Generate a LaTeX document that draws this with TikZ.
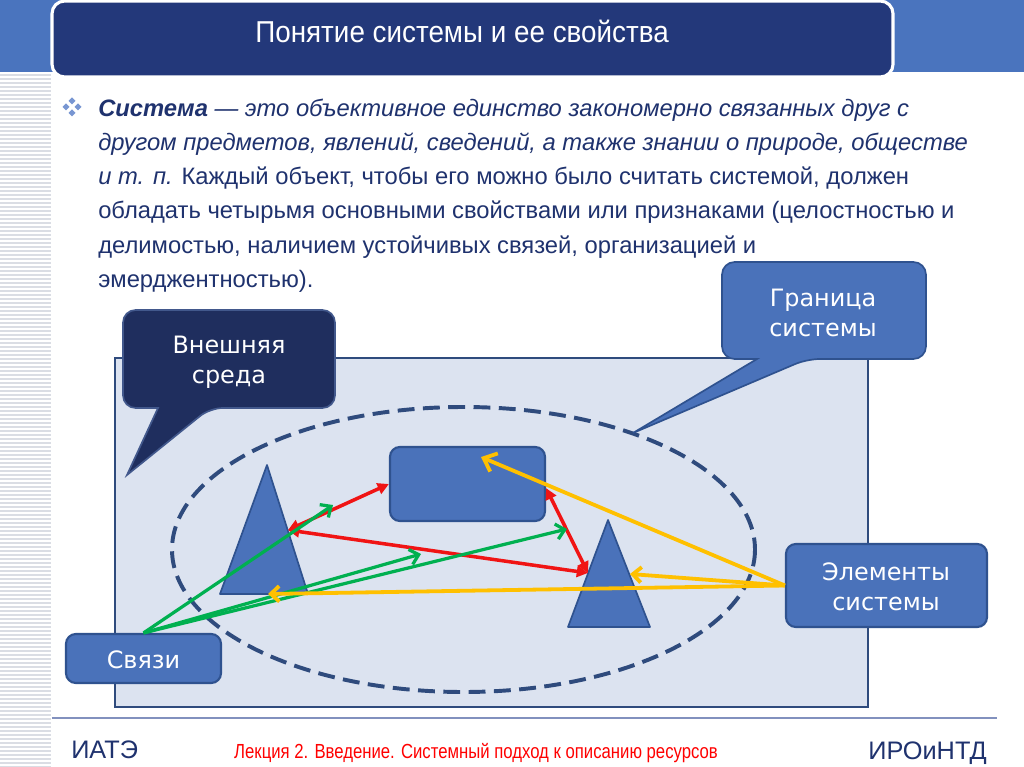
\documentclass[tikz,border=0pt]{standalone}
\usepackage{fontspec}
\setmainfont{Liberation Sans}
\newfontfamily\calloutfont{DejaVu Sans}
\newfontfamily\narrowfont[FakeStretch=0.82]{Liberation Sans}
\newfontfamily\titlefont[FakeStretch=0.92]{Liberation Sans}
\usetikzlibrary{arrows.meta}

\definecolor{bandblue}{RGB}{74,116,190}
\definecolor{titlenavy}{RGB}{35,56,122}
\definecolor{textnavy}{RGB}{31,50,110}
\definecolor{darkcall}{RGB}{31,46,94}
\definecolor{darkedge}{RGB}{66,88,140}
\definecolor{midblue}{RGB}{74,114,186}
\definecolor{midedge}{RGB}{47,82,143}
\definecolor{fieldfill}{RGB}{220,227,240}
\definecolor{fieldedge}{RGB}{47,75,125}
\definecolor{linkred}{RGB}{240,20,20}
\definecolor{linkgreen}{RGB}{0,176,80}
\definecolor{linkyellow}{RGB}{255,192,0}
\definecolor{stripegray}{RGB}{218,221,228}
\definecolor{footline}{RGB}{130,145,190}
\definecolor{bulletblue}{RGB}{120,150,210}

\tikzset{
  bodytext/.style={anchor=base west,inner sep=0pt,text=textnavy,font=\fontsize{16.9}{20}\selectfont},
  calltext/.style={align=center,inner sep=0pt,text=white,font=\calloutfont\fontsize{17}{21.5}\selectfont},
  midbox/.style={draw=midedge,fill=midblue,line width=1.5pt,rounded corners=7pt,inner sep=0pt},
  redlink/.style={draw=linkred,line width=2.5pt,{Triangle[length=8pt,width=8pt]}-{Triangle[length=8pt,width=8pt]}},
  greenlink/.style={draw=linkgreen,line width=2.3pt,-{Straight Barb[length=6pt,width=11pt]}},
  yellowlink/.style={draw=linkyellow,line width=2.7pt,-{Straight Barb[length=6pt,width=11pt]}}
}

\begin{document}
\begin{tikzpicture}[x=0.025cm,y=-0.025cm]
\useasboundingbox (0,0) rectangle (1024,767);
\clip (0,0) rectangle (1024,767);
\fill[white] (0,0) rectangle (1024,767);

% header
\fill[bandblue] (0,0) rectangle (1024,72);
\foreach \y in {75,79,...,767}
  \draw[stripegray,line width=1.2pt] (0,\y) -- (51,\y);
\draw[white,line width=2.2pt,fill=titlenavy,rounded corners=9pt] (52,1) rectangle (893,77);
\node[text=white,font=\titlefont\fontsize{21.5}{24}\selectfont,anchor=base] (title) at (462,43) {Понятие системы и ее свойства};

% definition
\foreach \bx/\by in {72/101,66/107,78/107,72/113}
  \fill[bulletblue] (\bx,\by-3.5) -- (\bx+3.5,\by) -- (\bx,\by+3.5) -- (\bx-3.5,\by) -- cycle;
\node[bodytext] (line1) at (98,117) {\textbf{\textit{Система}} \textit{— это объективное единство закономерно связанных друг с}};
\node[bodytext] (line2) at (98,151) {\textit{другом предметов, явлений, сведений, а также знании о природе, обществе}};
\node[bodytext] (line3) at (98,185) {\textit{и т. п.} Каждый объект, чтобы его можно было считать системой, должен};
\node[bodytext] (line4) at (98,219) {обладать четырьмя основными свойствами или признаками (целостностью и};
\node[bodytext] (line5) at (98,253) {делимостью, наличием устойчивых связей, организацией и};
\node[bodytext] (line6) at (98,287) {эмерджентностью).};

% environment and system
\draw[fill=fieldfill,draw=fieldedge,line width=1.5pt] (115,358) rectangle (868,707);
\draw[fieldedge,line width=2.8pt,dash pattern=on 12pt off 6pt] (463.5,549.5) ellipse [x radius=291.5,y radius=142.5];

\draw[draw=darkedge,fill=darkcall,line width=1.2pt,rounded corners=9pt]
  (123,310) -- (335,310) -- (335,408) -- (210,408) [sharp corners] -- (127,475) -- (158,408) [rounded corners=9pt] -- (123,408) -- cycle;
\node[calltext] (env) at (229,362) {Внешняя\\среда};

\draw[draw=midedge,fill=midblue,line width=1.2pt,rounded corners=9pt]
  (722,262) -- (926,262) -- (926,359) -- (807,359) [sharp corners] -- (633,433) -- (757,359) [rounded corners=9pt] -- (722,359) -- cycle;
\node[calltext] (border) at (823,313) {Граница\\системы};

% elements
\node[midbox,minimum width=3.875cm,minimum height=1.85cm] (blk) at (467.5,484) {};
\fill[midblue,draw=midedge,line width=1.2pt,line join=round] (267,465) -- (308,594) -- (220,594) -- cycle;
\fill[midblue,draw=midedge,line width=1.2pt,line join=round] (608,520) -- (650,627) -- (568,627) -- cycle;
\coordinate (lt) at (288,530);
\coordinate (ltb) at (268,594);
\coordinate (rt) at (588,573);
\coordinate (rtr) at (630,574);

\node[midbox,minimum width=3.875cm,minimum height=1.225cm] (svyazi) at (143.5,658.5) {};
\node[calltext] (svyazitext) at (143.5,660) {Связи};
\node[midbox,minimum width=5.025cm,minimum height=2.075cm] (elem) at (886.5,585.5) {};
\node[calltext] (elemtext) at (886,587) {Элементы\\системы};

% links
\coordinate (g1) at (333,505);
\coordinate (g2) at (421,554);
\coordinate (g3) at (567,529);
\coordinate (y1) at (481,457);

\draw[redlink] (lt) -- (blk.west);
\draw[redlink] (lt) -- (rt);
\draw[redlink] (blk.-3) -- (rt);

\draw[greenlink] (svyazi.north) -- (g1);
\draw[greenlink] (svyazi.north) -- (g2);
\draw[greenlink] (svyazi.north) -- (g3);

\draw[yellowlink,-{Straight Barb[length=8pt,width=14pt]}] (elem.west) -- (y1);
\draw[yellowlink] (elem.west) -- (rtr);
\draw[yellowlink] (elem.west) -- (ltb);

% footer
\draw[footline,line width=0.8pt] (52,718) -- (997,718);
\node[anchor=base west,inner sep=0pt,text=textnavy,font=\fontsize{18}{20}\selectfont] (iate) at (71,758) {ИАТЭ};
\node[anchor=base,inner sep=0pt,text=red,font=\narrowfont\fontsize{14.5}{17}\selectfont] (lecture) at (476,758) {Лекция 2. Введение. Системный подход к описанию ресурсов};
\node[anchor=base east,inner sep=0pt,text=textnavy,font=\fontsize{18}{20}\selectfont] (irointd) at (987,759) {ИРОиНТД};
\end{tikzpicture}
\end{document}
